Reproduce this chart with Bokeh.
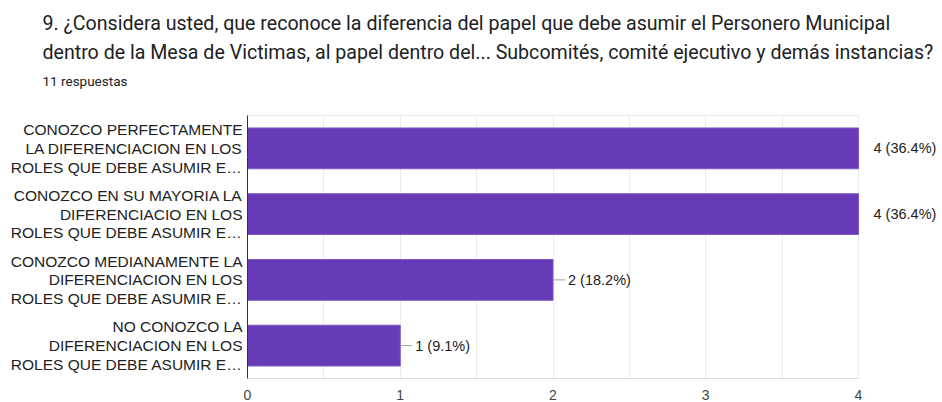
from bokeh.plotting import figure
from bokeh.models import ColumnDataSource, LabelSet, FixedTicker, Title, Range1d, FactorRange, LinearAxis
from bokeh.core.properties import value
from bokeh.embed import file_html
from bokeh.resources import INLINE

title_lines = [
    "9. ¿Considera usted, que reconoce la diferencia del papel que debe asumir el Personero Municipal",
    "dentro de la Mesa de Victimas, al papel dentro del... Subcomités, comité ejecutivo y demás instancias?",
]
subtitle = "11 respuestas"

categories = [
    "CONOZCO PERFECTAMENTE\nLA DIFERENCIACION EN LOS\nROLES QUE DEBE ASUMIR E…",
    "CONOZCO EN SU MAYORIA LA\nDIFERENCIACIO EN LOS\nROLES QUE DEBE ASUMIR E…",
    "CONOZCO MEDIANAMENTE LA\nDIFERENCIACION EN LOS\nROLES QUE DEBE ASUMIR E…",
    "NO CONOZCO LA\nDIFERENCIACION EN LOS\nROLES QUE DEBE ASUMIR E…",
]
counts = [4, 4, 2, 1]
total_responses = 11
x_ticks = [0, 1, 2, 3, 4]
x_minor = [0.5, 1.5, 2.5, 3.5]

labels = [f"{c} ({c / total_responses * 100:.1f}%)" for c in counts]

X_MAX = 4
FIG_W = 942
BORDER_L = 247
FRAME_W = 611                      # pixel width of the 0..4 axis
X_END = X_MAX * (FIG_W - BORDER_L) / FRAME_W
lead = 12 * X_MAX / FRAME_W        # 12 px leader line in data units

src = ColumnDataSource(dict(cat=categories, val=counts, lab=labels))
inner = [i for i, v in enumerate(counts) if v < X_MAX]
lead_src = ColumnDataSource(dict(cat=[categories[i] for i in inner],
                                 x0=[counts[i] for i in inner],
                                 x1=[counts[i] + lead for i in inner]))

p = figure(width=FIG_W, height=402, output_backend="svg", toolbar_location=None,
           y_range=FactorRange(factors=list(reversed(categories))),
           x_range=Range1d(0, X_END),
           min_border_left=BORDER_L, min_border_right=0, min_border_bottom=24,
           min_border_top=115)

p.hbar(y="cat", right="val", left=0, height=0.62, source=src,
       fill_color="#673ab7", line_color="#7e57c2", line_width=1)

p.segment(x0="x0", y0="cat", x1="x1", y1="cat", source=lead_src,
          line_color="#9e9e9e", line_width=1)

ls = LabelSet(x="val", y="cat", text="lab", source=src, x_offset=15,
              text_baseline="middle", text_align="left",
              text_font=value("Liberation Sans"), text_font_size="14.5px",
              text_color="#222222")
p.add_layout(ls)

# bottom axis
p.xaxis.ticker = FixedTicker(ticks=x_ticks, minor_ticks=x_minor)
p.xaxis.bounds = (0, X_MAX)
p.xaxis.axis_line_color = "#dadada"
p.xaxis.major_tick_line_color = None
p.xaxis.minor_tick_line_color = None
p.xaxis.major_tick_out = 0
p.xaxis.major_label_text_font = "Liberation Sans"
p.xaxis.major_label_text_font_size = "14px"
p.xaxis.major_label_text_color = "#444444"
p.xaxis.major_label_standoff = 7

# top border line
top = LinearAxis(ticker=FixedTicker(ticks=[]), bounds=(0, X_MAX),
                 axis_line_color="#e6e6e6", major_tick_line_color=None,
                 minor_tick_line_color=None, major_label_text_font_size="0px",
                 major_label_standoff=0)
p.add_layout(top, "above")

p.yaxis.axis_line_color = "#333333"
p.yaxis.major_tick_line_color = None
p.yaxis.minor_tick_line_color = None
p.yaxis.major_tick_out = 0
p.yaxis.major_label_text_font = "Liberation Sans"
p.yaxis.major_label_text_font_size = "15.5px"
p.yaxis.major_label_text_color = "#222222"
p.yaxis.major_label_text_line_height = 1.1
p.yaxis.major_label_standoff = 5

p.xgrid.grid_line_color = "#ebebeb"
p.xgrid.minor_grid_line_color = "#ebebeb"
p.ygrid.grid_line_color = None
p.outline_line_color = None

TITLE_X = 42 - BORDER_L
# titles (first added is closest to the plot); the first is a blank spacer
p.add_layout(Title(text="\u00a0", text_font="Roboto", text_font_size="15px",
                   align="left", offset=TITLE_X, standoff=0), "above")
p.add_layout(Title(text=subtitle, text_font="Roboto", text_font_size="13.5px",
                   text_font_style="normal", text_color="#202124",
                   align="left", offset=TITLE_X, standoff=13), "above")
p.add_layout(Title(text=title_lines[1], text_font="Roboto", text_font_size="19.6px",
                   text_font_style="normal", text_color="#202124",
                   align="left", offset=TITLE_X, standoff=2), "above")
p.add_layout(Title(text=title_lines[0], text_font="Roboto", text_font_size="19.6px",
                   text_font_style="normal", text_color="#202124",
                   align="left", offset=TITLE_X, standoff=5), "above")
p.title.visible = False

open("out.html", "w").write(file_html(p, INLINE))
